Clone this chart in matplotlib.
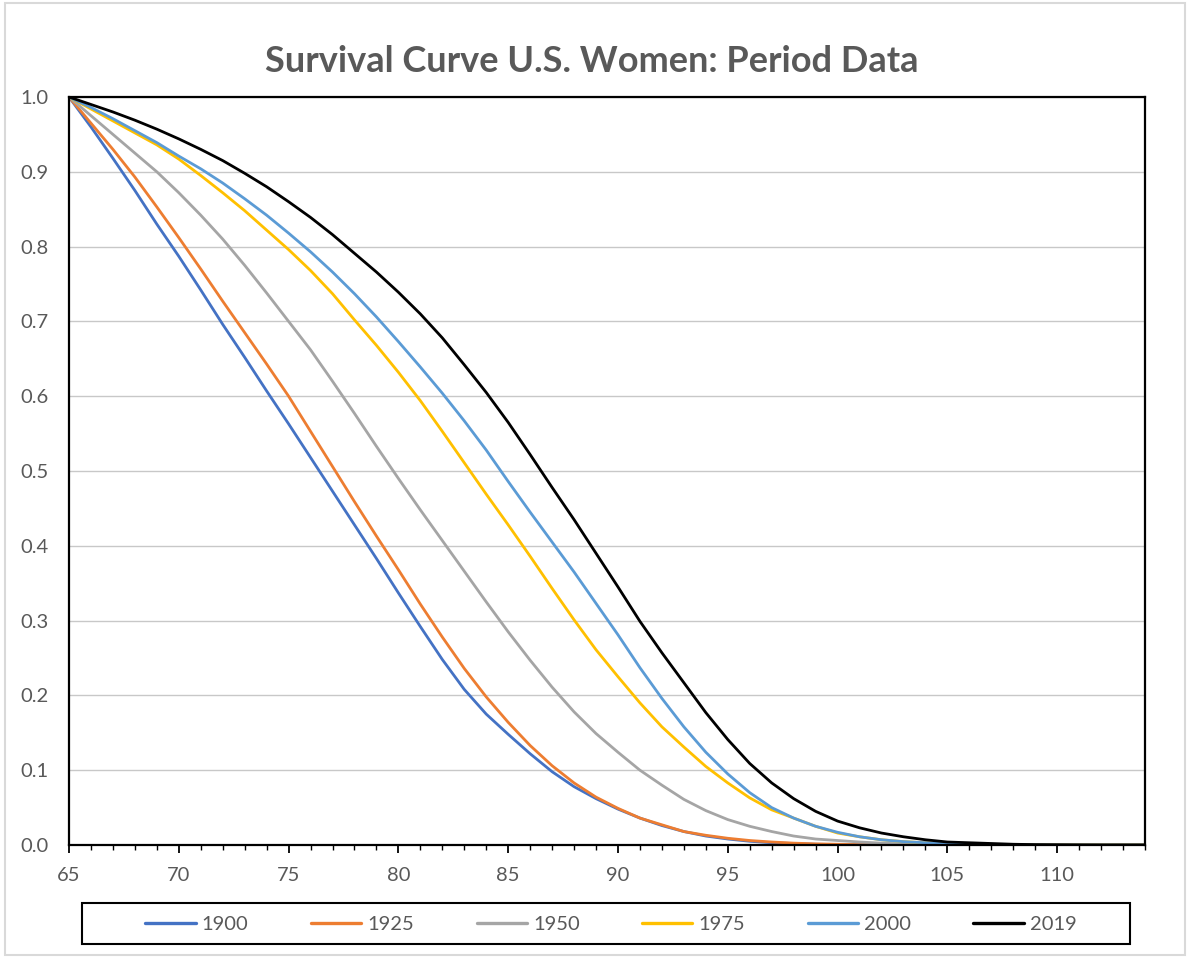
import numpy as np
import matplotlib
matplotlib.use("Agg")
import matplotlib.pyplot as plt
from matplotlib.patches import Rectangle
from matplotlib.ticker import MultipleLocator, FormatStrFormatter

plt.rcParams['font.family'] = ['Lato', 'DejaVu Sans']

ages = list(range(65, 115))

# survival probability from age 65
s1900 = [1.0, 0.96, 0.918, 0.875, 0.83, 0.787, 0.742, 0.696, 0.652, 0.607,
         0.563, 0.518, 0.473, 0.428, 0.383, 0.337, 0.292, 0.248, 0.208, 0.175,
         0.148, 0.122, 0.098, 0.078, 0.062, 0.048, 0.036, 0.026, 0.018, 0.012,
         0.008, 0.005, 0.003, 0.002, 0.001, 0.0006, 0.0003, 0.0002, 0.0001, 0.0,
         0.0, 0.0, 0.0, 0.0, 0.0, 0.0, 0.0, 0.0, 0.0, 0.0]
s1925 = [1.0, 0.965, 0.93, 0.893, 0.853, 0.812, 0.77, 0.727, 0.685, 0.643,
         0.6, 0.553, 0.506, 0.459, 0.413, 0.368, 0.322, 0.278, 0.236, 0.198,
         0.164, 0.133, 0.106, 0.083, 0.064, 0.049, 0.036, 0.027, 0.018, 0.013,
         0.009, 0.006, 0.004, 0.0025, 0.0015, 0.001, 0.0005, 0.0003, 0.0001, 0.0,
         0.0, 0.0, 0.0, 0.0, 0.0, 0.0, 0.0, 0.0, 0.0, 0.0]
s1950 = [1.0, 0.975, 0.95, 0.925, 0.9, 0.872, 0.842, 0.81, 0.775, 0.738,
         0.7, 0.662, 0.62, 0.577, 0.533, 0.49, 0.448, 0.407, 0.366, 0.325,
         0.285, 0.247, 0.211, 0.178, 0.149, 0.124, 0.1, 0.08, 0.061, 0.046,
         0.034, 0.025, 0.018, 0.012, 0.008, 0.006, 0.004, 0.0025, 0.0015, 0.001,
         0.0005, 0.0003, 0.0001, 0.0, 0.0, 0.0, 0.0, 0.0, 0.0, 0.0]
s1975 = [1.0, 0.984, 0.968, 0.952, 0.936, 0.917, 0.895, 0.872, 0.848, 0.822,
         0.796, 0.768, 0.737, 0.702, 0.668, 0.632, 0.594, 0.553, 0.511, 0.469,
         0.428, 0.386, 0.343, 0.301, 0.261, 0.225, 0.19, 0.158, 0.131, 0.105,
         0.083, 0.063, 0.047, 0.036, 0.025, 0.016, 0.011, 0.007, 0.0045, 0.003,
         0.002, 0.001, 0.0006, 0.0003, 0.0001, 0.0, 0.0, 0.0, 0.0, 0.0]
s2000 = [1.0, 0.986, 0.971, 0.955, 0.939, 0.921, 0.904, 0.885, 0.864, 0.842,
         0.818, 0.793, 0.766, 0.737, 0.706, 0.673, 0.639, 0.604, 0.567, 0.528,
         0.486, 0.445, 0.405, 0.365, 0.323, 0.281, 0.237, 0.196, 0.158, 0.124,
         0.095, 0.07, 0.05, 0.036, 0.025, 0.017, 0.011, 0.007, 0.0045, 0.003,
         0.002, 0.001, 0.0006, 0.0003, 0.0001, 0.0, 0.0, 0.0, 0.0, 0.0]
s2019 = [1.0, 0.99, 0.98, 0.969, 0.957, 0.944, 0.93, 0.915, 0.898, 0.88,
         0.86, 0.839, 0.816, 0.791, 0.766, 0.739, 0.71, 0.678, 0.642, 0.605,
         0.565, 0.522, 0.478, 0.435, 0.39, 0.345, 0.299, 0.257, 0.217, 0.177,
         0.141, 0.109, 0.083, 0.062, 0.045, 0.032, 0.023, 0.016, 0.011, 0.007,
         0.004, 0.003, 0.002, 0.001, 0.0005, 0.0003, 0.0001, 0.0, 0.0, 0.0]

series = ["1900", "1925", "1950", "1975", "2000", "2019"]
values = [s1900, s1925, s1950, s1975, s2000, s2019]
colors = ["#4472C4", "#ED7D31", "#A5A5A5", "#FFC000", "#5B9BD5", "#000000"]

txt = "#595959"

fig = plt.figure(figsize=(11.9, 9.57), dpi=100)
ax = fig.add_axes([69/1190, 1-845/957, (1145-69)/1190, (845-97)/957])

for name, v, c in zip(series, values, colors):
    ax.plot(ages, v, color=c, lw=2.0, label=name, solid_capstyle="round")

ax.set_xlim(65, 114)
ax.set_ylim(0, 1)
ax.xaxis.set_major_locator(MultipleLocator(5))
ax.xaxis.set_minor_locator(MultipleLocator(1))
ax.yaxis.set_major_locator(MultipleLocator(0.1))
ax.yaxis.set_major_formatter(FormatStrFormatter("%.1f"))
ax.grid(axis="y", color="#c8c8c8", lw=1.0)
ax.set_axisbelow(True)
for sp in ax.spines.values():
    sp.set_color("black")
    sp.set_linewidth(1.6)
ax.tick_params(axis="x", which="major", direction="out", length=6, width=1.3,
               color="black", labelcolor=txt, labelsize=14.5, pad=10)
ax.tick_params(axis="x", which="minor", direction="out", length=3.5, width=1.0,
               color="black")
ax.tick_params(axis="y", length=0, labelcolor=txt, labelsize=14.5, pad=15)

fig.text(0.497, 1-62/957, "Survival Curve U.S. Women: Period Data", ha="center",
         va="center", fontsize=26, fontweight="bold", color=txt)

leg = fig.legend(loc="center", bbox_to_anchor=(611/1190, 1-924/957), ncol=6,
                 frameon=False, fontsize=14.5, handlelength=2.5,
                 handletextpad=0.3, columnspacing=3.1)
for t in leg.get_texts():
    t.set_color(txt)
for h in leg.legend_handles:
    h.set_linewidth(2.4)
fig.patches.append(Rectangle((82/1190, 1-944/957), (1130-82)/1190, 41/957,
                             transform=fig.transFigure, fill=False,
                             ec="black", lw=1.5))
fig.patches.append(Rectangle((5/1190, 2/957), 1180/1190, 952/957,
                             transform=fig.transFigure, fill=False,
                             ec="#d9d9d9", lw=1.5))

fig.savefig("out.png", dpi=100)
